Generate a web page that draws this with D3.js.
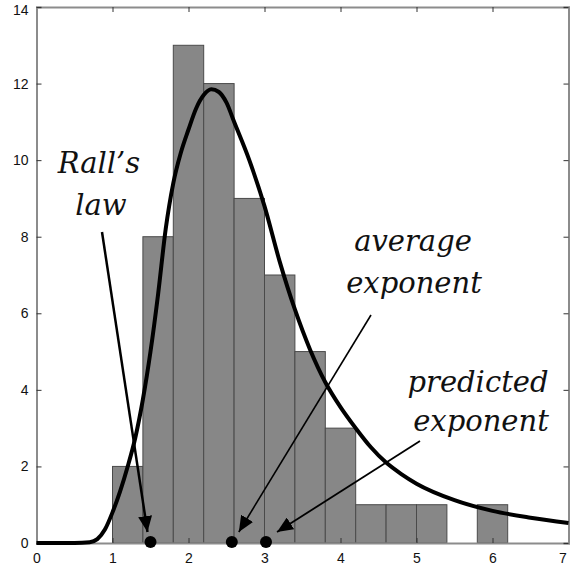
<!DOCTYPE html>
<html><head><meta charset="utf-8">
<script src="https://cdn.jsdelivr.net/npm/d3@7"></script>
<style>html,body{margin:0;padding:0;background:#fff;}svg{display:block;}</style>
</head><body>
<script>
// Histogram bins (left edge, count)
const binStarts = [1.0, 1.4, 1.8, 2.2, 2.6, 3.0, 3.4, 3.8, 4.2, 4.6, 5.0, 5.4, 5.8];
const binWidth = 0.4;
const binCounts = [2, 8, 13, 12, 9, 7, 5, 3, 1, 1, 1, 0, 1];
// Fitted curve
const curveX = [0, 0.5, 0.7, 0.8, 0.9, 1.0, 1.1, 1.2, 1.3, 1.4, 1.5, 1.6, 1.7, 1.8, 1.9, 2.0, 2.1, 2.2, 2.3, 2.4, 2.5, 2.6, 2.8, 3.0, 3.2, 3.4, 3.6, 3.8, 4.0, 4.2, 4.4, 4.6, 4.8, 5.0, 5.5, 6.0, 6.5, 7.0];
const curveY = [0, 0, 0.02, 0.1, 0.35, 0.8, 1.35, 2.0, 2.75, 3.75, 5.0, 6.5, 8.2, 9.4, 10.2, 10.8, 11.35, 11.7, 11.85, 11.78, 11.5, 11.0, 10.0, 8.8, 7.35, 6.1, 5.05, 4.2, 3.55, 3.0, 2.5, 2.1, 1.8, 1.55, 1.12, 0.84, 0.66, 0.52];
// Marked exponents
const markerNames = ["Rall's law", "average exponent", "predicted exponent"];
const markerX = [1.5, 2.57, 3.02];
const xTicks = [0, 1, 2, 3, 4, 5, 6, 7];
const yTicks = [0, 2, 4, 6, 8, 10, 12, 14];

const W = 570, H = 569;
const svg = d3.select("body").append("svg").attr("width", W).attr("height", H);
const x = d3.scaleLinear().domain([0, 7]).range([36.5, 568.5]);
const y = d3.scaleLinear().domain([0, 14]).range([543, 7]);

// bars
svg.append("g").selectAll("rect").data(binStarts.map((s, i) => ({s, c: binCounts[i]})).filter(d => d.c > 0))
  .join("rect")
  .attr("x", d => x(d.s)).attr("width", d => x(d.s + binWidth) - x(d.s))
  .attr("y", d => y(d.c)).attr("height", d => y(0) - y(d.c))
  .attr("fill", "#878787").attr("stroke", "#4a4a4a").attr("stroke-width", 1);

// axes box
const axisColor = "#8c8c8c";
const gx = svg.append("g").attr("transform", `translate(0,${y(0)})`)
  .call(d3.axisBottom(x).tickValues(xTicks).tickSize(-5).tickPadding(10).tickFormat(d3.format("d")));
const gxt = svg.append("g").attr("transform", `translate(0,${y(14)})`)
  .call(d3.axisTop(x).tickValues(xTicks).tickSize(-5).tickFormat(""));
const gy = svg.append("g").attr("transform", `translate(${x(0)},0)`)
  .call(d3.axisLeft(y).tickValues(yTicks).tickSize(-5).tickPadding(8).tickFormat(d3.format("d")));
const gyr = svg.append("g").attr("transform", `translate(${x(7)},0)`)
  .call(d3.axisRight(y).tickValues(yTicks).tickSize(-5).tickFormat(""));
[gx, gxt, gy, gyr].forEach(g => {
  g.select(".domain").attr("stroke", axisColor).attr("stroke-width", 2);
  g.selectAll(".tick line").attr("stroke", "#333").attr("stroke-width", 1);
  g.selectAll("text").attr("font-family", "Liberation Sans, Arial, sans-serif").attr("font-size", 14).attr("fill", "#111");
});
// keep edge labels inside the frame
gy.selectAll(".tick").filter(d => d === 14).select("text").attr("dy", "0.5em");
gx.selectAll(".tick").filter(d => d === 7).select("text").attr("text-anchor", "end").attr("dx", "-0.15em");

// curve
const line = d3.line().x(d => x(d[0])).y(d => y(d[1])).curve(d3.curveMonotoneX);
svg.append("path").datum(curveX.map((v, i) => [v, curveY[i]]))
  .attr("d", line).attr("fill", "none").attr("stroke", "#000").attr("stroke-width", 4);

// arrows
const defs = svg.append("defs");
defs.append("marker").attr("id", "ah").attr("viewBox", "0 0 16 14").attr("refX", 16).attr("refY", 7)
  .attr("markerWidth", 16).attr("markerHeight", 14).attr("markerUnits", "userSpaceOnUse").attr("orient", "auto")
  .append("path").attr("d", "M0,0 L16,7 L0,14 Z").attr("fill", "#000");

const arrowStarts = [[102, 232], [371, 315], [420, 441]];
markerX.forEach((mx, i) => {
  const tipX = x(mx) + [-3, 7, 11][i];
  svg.append("line")
    .attr("x1", arrowStarts[i][0]).attr("y1", arrowStarts[i][1])
    .attr("x2", tipX).attr("y2", y(0) - 11)
    .attr("stroke", "#000").attr("stroke-width", [2.5, 1.6, 1.8][i]).attr("marker-end", "url(#ah)");
});

// markers
svg.append("g").selectAll("circle").data(markerX).join("circle")
  .attr("cx", d => x(d)).attr("cy", y(0) - 1).attr("r", 6).attr("fill", "#000");

// labels
const labels = [
  {t: "Rall\u2019s", cx: 99, by: 173}, {t: "law", cx: 101, by: 215},
  {t: "average", cx: 413, by: 251}, {t: "exponent", cx: 414, by: 293},
  {t: "predicted", cx: 478, by: 392}, {t: "exponent", cx: 481, by: 431}
];
svg.append("g").selectAll("text").data(labels).join("text")
  .attr("x", d => d.cx).attr("y", d => d.by).attr("text-anchor", "middle")
  .attr("font-family", "DejaVu Serif, serif").attr("font-style", "italic")
  .attr("font-size", 29).attr("fill", "#111").text(d => d.t);
</script>
</body></html>
